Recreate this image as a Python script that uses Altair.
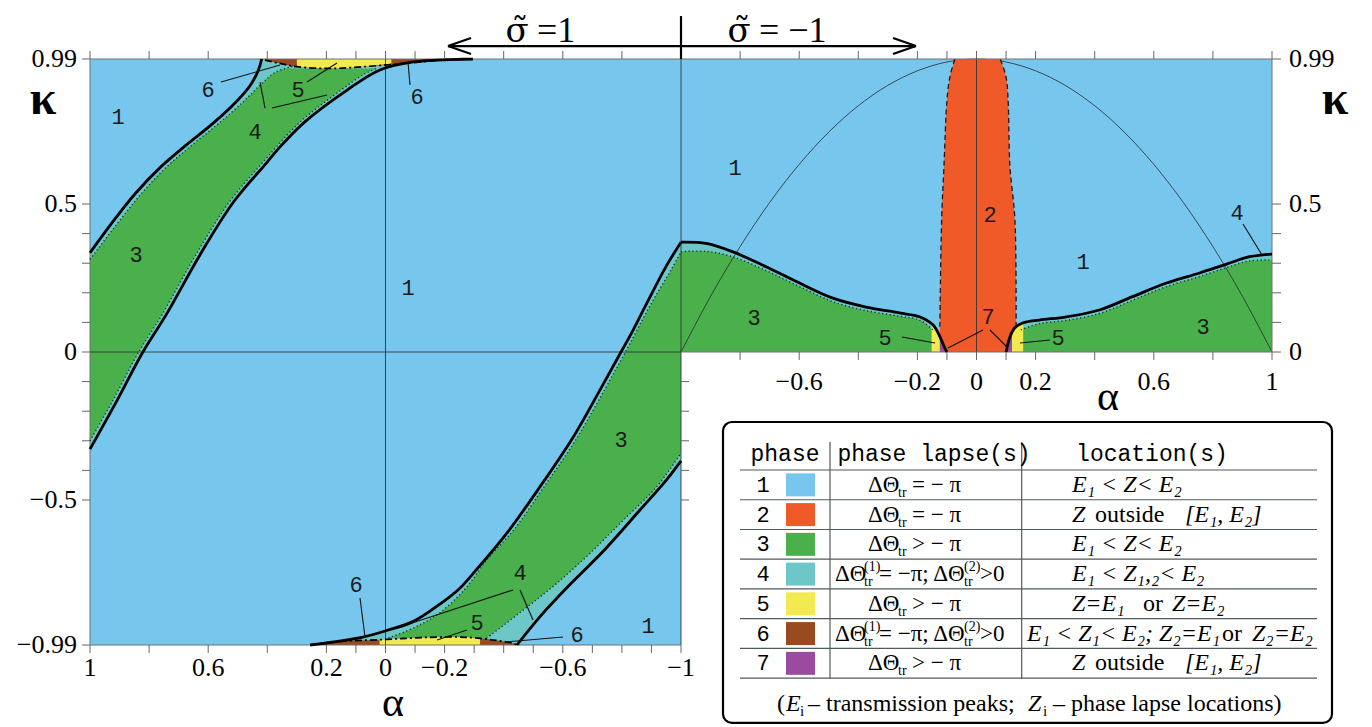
import altair as alt
import pandas as pd

# ---------------- colours of the seven phases ----------------
PHASE_COLORS = ["#77C6EE", "#F05A28", "#49B04B", "#6DC7C9", "#F2EA50", "#9A4A1F", "#9A4A9F"]
BLUE, RED, GREEN, CYAN, YELLOW, BROWN, PURPLE = PHASE_COLORS

# ---------------- left panel (sigma~ = 1): alpha runs 1 -> -1 ----------------
# thick boundary A (upper-left)
A_alpha = [1.0, 0.929, 0.848, 0.763, 0.675, 0.587, 0.506, 0.455, 0.430, 0.419]
A_kappa = [0.335, 0.432, 0.534, 0.623, 0.699, 0.770, 0.845, 0.905, 0.953, 0.99]
# dotted 3|4 boundary next to A
DA_alpha = [1.0, 0.909, 0.827, 0.743, 0.655, 0.567, 0.482, 0.421, 0.371, 0.31]
DA_kappa = [0.313, 0.432, 0.534, 0.623, 0.699, 0.770, 0.845, 0.905, 0.946, 0.966]
# thick boundary C (right edge of the upper band)
C_alpha = [1.0, 0.912, 0.821, 0.741, 0.628, 0.515, 0.401, 0.357, 0.275, 0.130, 0.019, -0.093, -0.296]
C_kappa = [-0.328, -0.17, 0.0, 0.128, 0.328, 0.506, 0.641, 0.693, 0.776, 0.885, 0.953, 0.98, 0.99]
# dotted boundary next to C
DC_alpha = [1.0, 0.926, 0.835, 0.755, 0.642, 0.529, 0.415, 0.29, 0.15, 0.07, 0.03]
DC_kappa = [-0.30, -0.17, 0.0, 0.128, 0.328, 0.506, 0.641, 0.776, 0.885, 0.94, 0.958]
# dash-dot boundary of phases 5/6 at the top
TD_alpha = [0.408, 0.357, 0.30, 0.188, 0.076, -0.038, -0.151, -0.207]
TD_kappa = [0.986, 0.975, 0.964, 0.958, 0.964, 0.973, 0.983, 0.989]
TY_alpha = [0.30, 0.188, 0.076, -0.02]
TY_kappa = [0.964, 0.958, 0.964, 0.975]
# thick boundary G (upper-left edge of the lower band)
G_alpha = [0.255, 0.076, -0.004, -0.093, -0.184, -0.25, -0.297, -0.41, -0.523, -0.636, -0.726, -0.797, -0.838, -0.884, -0.95, -1.0]
G_kappa = [-0.99, -0.963, -0.941, -0.911, -0.852, -0.80, -0.748, -0.613, -0.455, -0.286, -0.128, 0.0, 0.074, 0.164, 0.29, 0.371]
DG_alpha = [-0.01, -0.10, -0.185, -0.27, -0.345, -0.435, -0.54, -0.642, -0.74, -0.812, -0.897, -0.968, -1.0]
DG_kappa = [-0.966, -0.93, -0.88, -0.80, -0.70, -0.60, -0.45, -0.30, -0.13, 0.0, 0.16, 0.28, 0.339]
# thick boundary H (lower-right edge of the lower band)
H_alpha = [-0.445, -0.523, -0.62, -0.735, -0.861, -0.951, -1.0]
H_kappa = [-0.99, -0.894, -0.79, -0.675, -0.534, -0.432, -0.368]
DH_alpha = [-0.342, -0.466, -0.579, -0.692, -0.805, -0.918, -1.0]
DH_kappa = [-0.967, -0.872, -0.782, -0.68, -0.568, -0.455, -0.342]
# dash-dot boundary at the bottom
BD_alpha = [0.255, 0.169, -0.004, -0.151, -0.275, -0.364, -0.431, -0.445]
BD_kappa = [-0.99, -0.979, -0.971, -0.964, -0.964, -0.973, -0.984, -0.99]
BY_alpha = [0.02, -0.004, -0.151, -0.275, -0.32]
BY_kappa = [-0.971, -0.971, -0.964, -0.964, -0.968]

# ---------------- right panel (sigma~ = -1): alpha runs -1 -> 1 ----------------
E_alpha = [-1.0, -0.915, -0.826, -0.712, -0.599, -0.486, -0.374, -0.261, -0.193, -0.147, -0.124, -0.107, -0.10]
E_kappa = [0.371, 0.367, 0.339, 0.288, 0.233, 0.182, 0.152, 0.132, 0.119, 0.091, 0.052, 0.013, 0.0]
DE_alpha = [-1.0, -0.915, -0.826, -0.712, -0.599, -0.486, -0.374, -0.261, -0.193, -0.148]
DE_kappa = [0.339, 0.340, 0.322, 0.275, 0.221, 0.170, 0.140, 0.121, 0.108, 0.075]
F_alpha = [0.10, 0.112, 0.129, 0.156, 0.213, 0.305, 0.416, 0.528, 0.643, 0.755, 0.846, 0.924, 1.0]
F_kappa = [0.0, 0.047, 0.081, 0.098, 0.108, 0.119, 0.142, 0.187, 0.233, 0.267, 0.297, 0.322, 0.331]
DF_alpha = [0.15, 0.213, 0.305, 0.416, 0.528, 0.643, 0.755, 0.846, 0.924, 1.0]
DF_kappa = [0.075, 0.096, 0.107, 0.130, 0.175, 0.221, 0.255, 0.285, 0.308, 0.311]
R_kappa = [0.0, 0.085, 0.446, 0.63, 0.85, 0.93, 0.99]
R_left = [-0.124, -0.124, -0.118, -0.110, -0.10, -0.09, -0.073]
R_right = [0.134, 0.134, 0.13, 0.113, 0.107, 0.10, 0.08]
YL_alpha = [-0.152, -0.147, -0.135, -0.124]
YL_kappa = [0.09, 0.091, 0.075, 0.052]
PL_alpha = [-0.124, -0.115, -0.107, -0.10]
PL_kappa = [0.052, 0.033, 0.013, 0.0]
YR_alpha = [0.12, 0.129, 0.145, 0.158]
YR_kappa = [0.065, 0.081, 0.092, 0.095]
PR_alpha = [0.10, 0.106, 0.112, 0.12]
PR_kappa = [0.0, 0.028, 0.047, 0.065]
PAR_alpha = [-1, -0.9, -0.8, -0.7, -0.6, -0.5, -0.4, -0.3, -0.2, -0.1, 0, 0.1, 0.2, 0.3, 0.4, 0.5, 0.6, 0.7, 0.8, 0.9, 1]
PAR_kappa = [0, 0.188, 0.356, 0.505, 0.634, 0.743, 0.832, 0.901, 0.950, 0.980, 0.99, 0.980, 0.950, 0.901, 0.832, 0.743, 0.634, 0.505, 0.356, 0.188, 0]

# ---------------- axes ----------------
LEFT_K_TICKS = [0.99, 0.5, 0.4, 0.3, 0.2, 0.1, 0, -0.1, -0.2, -0.3, -0.4, -0.5, -0.99]
RIGHT_K_TICKS = [0.99, 0.5, 0.4, 0.3, 0.2, 0.1, 0]
MID_K_TICKS = [-0.1, -0.2, -0.3, -0.4, -0.5]
TOP_L_TICKS = [1, 0.8, 0.6, 0.4, 0.2, 0.1, 0, -0.1, -0.2, -0.4, -0.6, -0.8, -1]
BOT_L_TICKS = [1, 0.8, 0.6, 0.4, 0.2, 0.1, 0, -0.1, -0.2, -0.3, -0.4, -0.5, -0.6, -0.7, -0.8, -0.9, -1]
R_TICKS = [-1, -0.8, -0.6, -0.4, -0.2, -0.1, 0, 0.1, 0.2, 0.4, 0.6, 0.8, 1]
LEFT_K_LABELS = ["0.99", "0.5", "0", "−0.5", "−0.99"]
LEFT_K_VALUES = [0.99, 0.5, 0, -0.5, -0.99]
RIGHT_K_LABELS = ["0.99", "0.5", "0"]
RIGHT_K_VALUES = [0.99, 0.5, 0]
BOT_L_LABELS = ["1", "0.6", "0.2", "0", "−0.2", "−0.6", "−1"]
BOT_L_VALUES = [1, 0.6, 0.2, 0, -0.2, -0.6, -1]
BOT_R_LABELS = ["−0.6", "−0.2", "0", "0.2", "0.6", "1"]
BOT_R_VALUES = [-0.6, -0.2, 0, 0.2, 0.6, 1]

# ---------------- region numbers (page px) ----------------
REGION_LABELS = ["1", "1", "1", "1", "1", "3", "3", "3", "3", "4", "4", "4",
                 "5", "5", "5", "5", "6", "6", "6", "6", "2", "7"]
REGION_X = [118, 408, 648, 735, 1083, 136, 621, 754, 1203, 255, 520, 1237,
            298, 477, 885, 1058, 208, 417, 356, 577, 990, 988]
REGION_Y = [117, 288, 626, 168, 262, 255, 440, 318, 327, 132, 573, 213,
            90, 623, 338, 338, 90, 97, 585, 635, 215, 317]
LEADERS = [(221, 82, 280, 65), (307, 82, 337, 63), (265, 108, 260, 82), (272, 108, 327, 95),
           (410, 85, 408, 62), (360, 598, 365, 637), (513, 590, 412, 623), (520, 590, 533, 620),
           (467, 630, 437, 640), (563, 637, 505, 642), (902, 337, 935, 343), (983, 330, 948, 348),
           (990, 330, 1007, 347), (1050, 340, 1020, 343), (1243, 224, 1262, 255)]

# ---------------- title ----------------
TITLE_SIGMA_X = [517, 739]
TITLE_REST = [(537, "=1"), (759, "= −1")]

# ---------------- legend table ----------------
PHASES = ["1", "2", "3", "4", "5", "6", "7"]
HEADERS = ["phase", "phase lapse(s)", "location(s)"]
LAPSE_REL = ["= − π", "= − π", "> − π", None, "> − π", None, "> − π"]
LOC_ITALIC = [(0, 1072, "E₁ < Z< E₂"), (1, 1072, "Z"), (1, 1185, "[E₁, E₂]"),
              (2, 1072, "E₁ < Z< E₂"), (3, 1072, "E₁ < Z₁,₂< E₂"), (4, 1072, "Z=E₁"),
              (4, 1172, "Z=E₂"), (5, 1027, "E₁ < Z₁< E₂; Z₂=E₁"), (5, 1252, "Z₂=E₂"),
              (6, 1072, "Z"), (6, 1185, "[E₁, E₂]")]
LOC_UPRIGHT = [(1, 1095, "outside"), (4, 1143, "or"), (5, 1222, "or"), (6, 1095, "outside")]
NOTE_PIECES = [(777, "(", "n"), (786, "E", "i"), (800, "i", "s"), (808, "– transmission peaks;", "n"),
               (1028, "Z", "i"), (1043, "i", "s"), (1053, "– phase lapse locations)", "n")]

# ---------------- helpers ----------------
def uL(a): return [1.0 - v for v in a]
def uR(a): return [3.0 + v for v in a]
def U(xp): return (xp - 90.0) / 295.5     # page x -> plot unit
def K(yp): return (352.0 - yp) / 296.0    # page y -> kappa

xs = alt.Scale(domain=[0, 4], nice=False, zero=False)
ys = alt.Scale(domain=[-0.99, 0.99], nice=False, zero=False)
def ex(): return alt.X("u:Q", scale=xs, axis=None, stack=None)
def ey(): return alt.Y("k:Q", scale=ys, axis=None, stack=None)
EX2 = alt.X2("u2:Q")
EY2 = alt.Y2("k2:Q")
INTERP = "catmull-rom"

def harea(us, ks, u2, color):
    if not isinstance(u2, list):
        u2 = [u2] * len(us)
    df = pd.DataFrame({"u": us, "u2": u2, "k": ks})
    return alt.Chart(df).mark_area(orient="horizontal", color=color, interpolate=INTERP,
                                   opacity=1).encode(y=ey(), x=ex(), x2=EX2)

def varea(us, ks, k2, color):
    if not isinstance(k2, list):
        k2 = [k2] * len(us)
    df = pd.DataFrame({"u": us, "k": ks, "k2": k2})
    return alt.Chart(df).mark_area(orient="vertical", color=color, interpolate=INTERP,
                                   opacity=1).encode(x=ex(), y=ey(), y2=EY2)

def lines(curves, **mk):
    rows = []
    for cid, (us, ks) in enumerate(curves):
        for i, (u, k) in enumerate(zip(us, ks)):
            rows.append({"id": cid, "i": i, "u": u, "k": k})
    df = pd.DataFrame(rows)
    return alt.Chart(df).mark_line(interpolate=INTERP, **mk).encode(
        x=ex(), y=ey(), detail="id:N", order="i:Q")

def segs(items, **mk):
    df = pd.DataFrame(items, columns=["u", "k", "u2", "k2"])
    return alt.Chart(df).mark_rule(**mk).encode(x=ex(), y=ey(), x2=EX2, y2=EY2)

def texts(items, **mk):
    df = pd.DataFrame(items, columns=["u", "k", "t"])
    return alt.Chart(df).mark_text(**mk).encode(x=ex(), y=ey(), text="t:N")

SERIF = "Liberation Serif"
MONO = "Liberation Mono"
DU = 8 / 295.5
DK = 8 / 296.0

layers = []
# panels
panels = pd.DataFrame({"u": [0.0, 2.0], "u2": [2.0, 4.0], "k": [-0.99, 0.0], "k2": [0.99, 0.99]})
layers.append(alt.Chart(panels).mark_rect(color=BLUE).encode(x=ex(), x2=EX2, y=ey(), y2=EY2))

# upper band of left panel
layers += [harea(uL(C_alpha), C_kappa, 0.0, CYAN), harea(uL(DC_alpha), DC_kappa, 0.0, GREEN),
           harea(uL(DA_alpha), DA_kappa, 0.0, CYAN), harea(uL(A_alpha), A_kappa, 0.0, BLUE)]
layers += [varea(uL(TD_alpha), TD_kappa, 0.99, BROWN), varea(uL(TY_alpha), TY_kappa, 0.99, YELLOW)]
# lower band of left panel
layers += [harea(uL(G_alpha), G_kappa, 2.0, CYAN), harea(uL(DG_alpha), DG_kappa, 2.0, GREEN),
           harea(uL(DH_alpha), DH_kappa, 2.0, CYAN), harea(uL(H_alpha), H_kappa, 2.0, BLUE)]
layers += [varea(uL(BD_alpha), BD_kappa, -0.99, BROWN), varea(uL(BY_alpha), BY_kappa, -0.99, YELLOW)]
# right panel
layers += [varea(uR(E_alpha), E_kappa, 0.0, CYAN), varea(uR(F_alpha), F_kappa, 0.0, CYAN),
           varea(uR(DE_alpha), DE_kappa, 0.0, GREEN), varea(uR(DF_alpha), DF_kappa, 0.0, GREEN)]
layers.append(lines([(uR(PAR_alpha), PAR_kappa)], color="#2a2a2a", strokeWidth=0.8))
layers.append(harea(uR(R_left), R_kappa, uR(R_right), RED))
layers += [varea(uR(YL_alpha), YL_kappa, 0.0, YELLOW), varea(uR(PL_alpha), PL_kappa, 0.0, PURPLE),
           varea(uR(YR_alpha), YR_kappa, 0.0, YELLOW), varea(uR(PR_alpha), PR_kappa, 0.0, PURPLE)]

# thin reference lines and frame
layers.append(segs([(1, -0.99, 1, 0.99), (0, 0, 2, 0), (3, 0, 3, 0.99), (2, -0.99, 2, 0.99)],
                   color="#333333", strokeWidth=0.9))
layers.append(segs([(0, 0.99, 4, 0.99), (0, -0.99, 0, 0.99), (0, -0.99, 2, -0.99),
                    (4, 0, 4, 0.99), (2, 0, 4, 0)], color="#707070", strokeWidth=1))

# boundary curves
layers.append(lines([(uL(DA_alpha), DA_kappa), (uL(DC_alpha), DC_kappa), (uL(DG_alpha), DG_kappa),
                     (uL(DH_alpha), DH_kappa), (uR(DE_alpha), DE_kappa), (uR(DF_alpha), DF_kappa)],
                    color="#163333", strokeWidth=1.4, strokeDash=[1.2, 2.6]))
layers.append(lines([(uL(TD_alpha), TD_kappa), (uL(BD_alpha), BD_kappa)],
                    color="black", strokeWidth=1.7, strokeDash=[7, 3, 2, 3]))
layers.append(lines([(uR(R_left[1:]), R_kappa[1:]), (uR(R_right[1:]), R_kappa[1:])],
                    color="#1a1a1a", strokeWidth=1.3, strokeDash=[5, 3.5]))
layers.append(lines([(uL(A_alpha), A_kappa), (uL(C_alpha), C_kappa), (uL(G_alpha), G_kappa),
                     (uL(H_alpha), H_kappa), (uR(E_alpha), E_kappa), (uR(F_alpha), F_kappa)],
                    color="black", strokeWidth=2.8))

# ticks
ticks = [(0, k, -DU, k) for k in LEFT_K_TICKS]
ticks += [(4, k, 4 + 9 / 295.5, k) for k in RIGHT_K_TICKS]
ticks += [(2, k, 2 + DU, k) for k in MID_K_TICKS]
ticks += [(1 - a, 0.99, 1 - a, 0.99 + DK) for a in TOP_L_TICKS]
ticks += [(3 + a, 0.99, 3 + a, 0.99 + DK) for a in R_TICKS]
ticks += [(1 - a, -0.99, 1 - a, -0.99 - DK) for a in BOT_L_TICKS]
ticks += [(3 + a, 0, 3 + a, -DK) for a in R_TICKS if a > -1]
layers.append(segs(ticks, color="#666666", strokeWidth=1))

# tick labels
layers.append(texts([(U(77), k, t) for k, t in zip(LEFT_K_VALUES, LEFT_K_LABELS)],
                    font=SERIF, fontSize=26, align="right", baseline="middle", color="black"))
layers.append(texts([(U(1289), k, t) for k, t in zip(RIGHT_K_VALUES, RIGHT_K_LABELS)],
                    font=SERIF, fontSize=26, align="left", baseline="middle", color="black"))
layers.append(texts([(1 - a, K(668), t) for a, t in zip(BOT_L_VALUES, BOT_L_LABELS)],
                    font=SERIF, fontSize=26, align="center", baseline="middle", color="black"))
layers.append(texts([(3 + a, K(382), t) for a, t in zip(BOT_R_VALUES, BOT_R_LABELS)],
                    font=SERIF, fontSize=26, align="center", baseline="middle", color="black"))
# axis titles
layers.append(texts([(U(43), K(114), "κ"), (U(1335), K(114), "κ")],
                    font=SERIF, fontSize=48, fontWeight="bold", align="center", baseline="alphabetic", color="black"))
layers.append(texts([(U(393), K(716), "α"), (U(1108), K(410), "α")],
                    font=SERIF, fontSize=42, align="center", baseline="alphabetic", color="black"))

# header: sigma~ arrows
layers.append(texts([(U(x), K(42), "σ\u0303") for x in TITLE_SIGMA_X],
                    font="DejaVu Serif", fontSize=34, align="center", baseline="alphabetic", color="black"))
layers.append(texts([(U(x), K(42), t) for x, t in TITLE_REST],
                    font=SERIF, fontSize=36, align="left", baseline="alphabetic", color="black"))
arrow = [(U(448), K(46), U(916), K(46)),
         (U(448), K(46), U(471), K(38)), (U(448), K(46), U(471), K(54)),
         (U(916), K(46), U(893), K(38)), (U(916), K(46), U(893), K(54)),
         (2, K(16), 2, 0.99)]
layers.append(segs(arrow, color="black", strokeWidth=2.2))

# region numbers and leader lines
layers.append(texts([(U(x), K(y), t) for x, y, t in zip(REGION_X, REGION_Y, REGION_LABELS)],
                    font=MONO, fontSize=22, align="center", baseline="middle", color="#1a1a1a"))
layers.append(segs([(U(a), K(b), U(c), K(d)) for a, b, c, d in LEADERS], color="#111111", strokeWidth=1.1))

# ---------------- legend table ----------------
ROW_Y = [470 + 29.75 * (i + 0.5) for i in range(7)]
box = pd.DataFrame({"u": [U(723)], "u2": [U(1332)], "k": [K(422)], "k2": [K(723)]})
layers.append(alt.Chart(box).mark_rect(fill="white", stroke="black", strokeWidth=2.2,
                                       cornerRadius=9).encode(x=ex(), x2=EX2, y=ey(), y2=EY2))
hl = [(U(740), K(y), U(1317), K(y)) for y in [470 + 29.75 * i for i in range(8)]]
vl = [(U(830), K(442), U(830), K(678.5)), (U(1021.7), K(442), U(1021.7), K(678.5))]
layers.append(segs(hl + vl, color="#4f5a5a", strokeWidth=1.2))
layers.append(texts([(U(785), K(461), HEADERS[0]), (U(934), K(461), HEADERS[1]), (U(1152), K(461), HEADERS[2])],
                    font=MONO, fontSize=23, align="center", baseline="alphabetic", color="black"))
layers.append(texts([(U(763), K(y), p) for y, p in zip(ROW_Y, PHASES)],
                    font=MONO, fontSize=22, align="center", baseline="middle", color="black"))
sq = pd.DataFrame({"u": [U(786)] * 7, "u2": [U(815)] * 7,
                   "k": [K(y + 11.5) for y in ROW_Y], "k2": [K(y - 11.5) for y in ROW_Y],
                   "c": PHASE_COLORS})
layers.append(alt.Chart(sq).mark_rect().encode(x=ex(), x2=EX2, y=ey(), y2=EY2,
                                                color=alt.Color("c:N", scale=None)))
lap_main, lap_sub, lap_sup = [], [], []
for r, yc in enumerate(ROW_Y):
    if LAPSE_REL[r] is None:
        lap_main += [(U(835), K(yc + 7), "ΔΘ"), (U(879), K(yc + 7), "= −π; ΔΘ"), (U(980), K(yc + 7), ">0")]
        lap_sup += [(U(864), K(yc - 3), "(1)"), (U(964), K(yc - 3), "(2)")]
        lap_sub += [(U(864), K(yc + 12), "tr"), (U(964), K(yc + 12), "tr")]
    else:
        lap_main += [(U(868), K(yc + 7), "ΔΘ"), (U(912), K(yc + 7), LAPSE_REL[r])]
        lap_sub += [(U(898), K(yc + 12), "tr")]
layers.append(texts(lap_main, font=SERIF, fontSize=23, align="left", baseline="alphabetic", color="black"))
layers.append(texts(lap_sub + lap_sup, font=SERIF, fontSize=14, align="left", baseline="alphabetic", color="black"))
layers.append(texts([(U(x), K(ROW_Y[r] + 7), t) for r, x, t in LOC_ITALIC],
                    font=SERIF, fontSize=24, fontStyle="italic", align="left", baseline="alphabetic", color="black"))
layers.append(texts([(U(x), K(ROW_Y[r] + 7), t) for r, x, t in LOC_UPRIGHT],
                    font=SERIF, fontSize=24, align="left", baseline="alphabetic", color="black"))
note_n = [(U(x), K(711), t) for x, t, s in NOTE_PIECES if s == "n"]
note_i = [(U(x), K(711), t) for x, t, s in NOTE_PIECES if s == "i"]
note_s = [(U(x), K(716), t) for x, t, s in NOTE_PIECES if s == "s"]
layers.append(texts(note_n, font=SERIF, fontSize=24, align="left", baseline="alphabetic", color="black"))
layers.append(texts(note_i, font=SERIF, fontSize=24, fontStyle="italic", align="left", baseline="alphabetic", color="black"))
layers.append(texts(note_s, font=SERIF, fontSize=15, align="left", baseline="alphabetic", color="black"))

chart = alt.layer(*layers).properties(
    width=1182, height=586,
    padding={"left": 82, "top": 51, "right": 88, "bottom": 90},
    autosize=alt.AutoSizeParams(type="none"),
    background="white",
).configure_view(stroke=None)

chart.save("out.html", embed_options={"renderer": "svg", "actions": False})
